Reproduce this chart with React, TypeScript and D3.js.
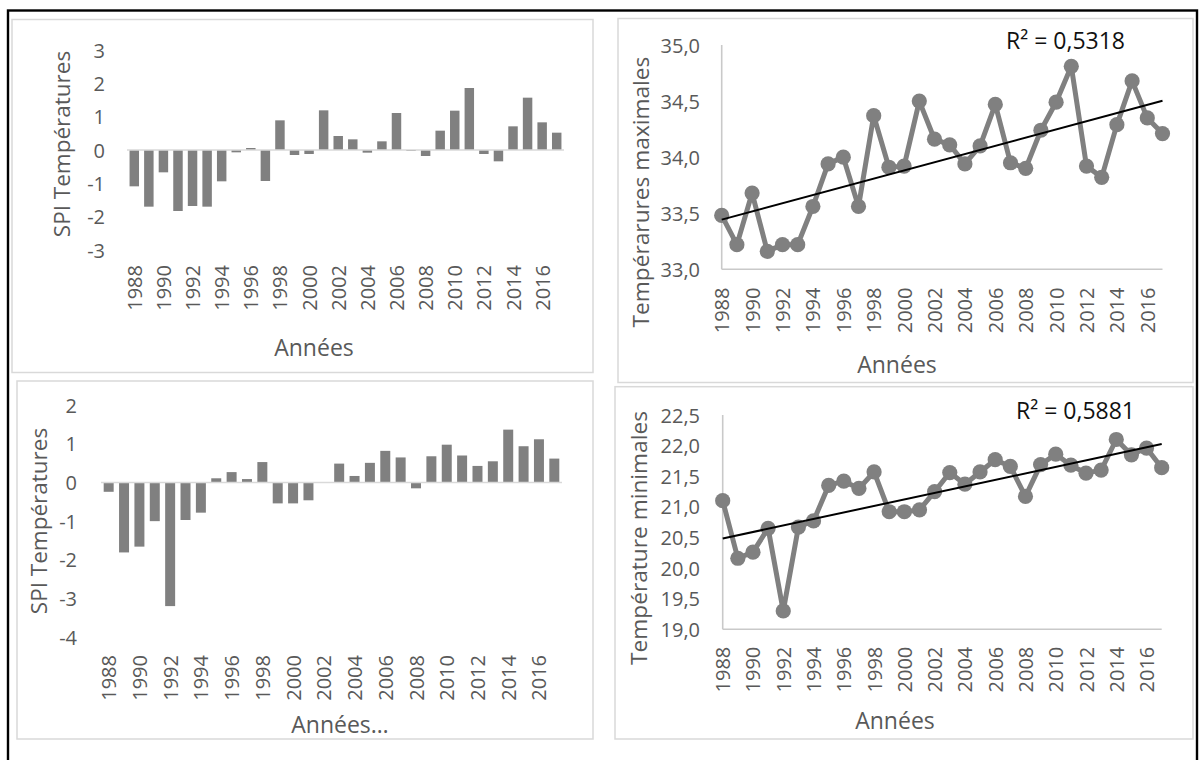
import React from "react";
import * as d3 from "d3";

const years = [1988, 1989, 1990, 1991, 1992, 1993, 1994, 1995, 1996, 1997, 1998, 1999, 2000, 2001, 2002, 2003, 2004, 2005, 2006, 2007, 2008, 2009, 2010, 2011, 2012, 2013, 2014, 2015, 2016, 2017];
const yearTickLabels = [1988, 1990, 1992, 1994, 1996, 1998, 2000, 2002, 2004, 2006, 2008, 2010, 2012, 2014, 2016];

const spiTmax = [-1.09, -1.7, -0.67, -1.83, -1.68, -1.7, -0.94, -0.07, 0.06, -0.93, 0.89, -0.15, -0.12, 1.19, 0.42, 0.32, -0.08, 0.26, 1.11, -0.03, -0.18, 0.58, 1.18, 1.86, -0.12, -0.34, 0.71, 1.57, 0.83, 0.52];
const spiTmin = [-0.24, -1.81, -1.66, -1.0, -3.2, -0.97, -0.78, 0.11, 0.27, 0.09, 0.53, -0.54, -0.54, -0.46, 0.0, 0.49, 0.17, 0.51, 0.82, 0.65, -0.15, 0.68, 0.98, 0.7, 0.43, 0.55, 1.37, 0.94, 1.12, 0.62];
const tmax = [33.48, 33.22, 33.68, 33.16, 33.22, 33.22, 33.56, 33.94, 34.0, 33.56, 34.37, 33.91, 33.92, 34.5, 34.16, 34.11, 33.94, 34.1, 34.47, 33.95, 33.9, 34.24, 34.49, 34.81, 33.92, 33.82, 34.29, 34.68, 34.35, 34.21];
const tmin = [21.1, 20.16, 20.26, 20.65, 19.3, 20.67, 20.77, 21.35, 21.42, 21.3, 21.57, 20.92, 20.92, 20.95, 21.25, 21.56, 21.37, 21.57, 21.77, 21.66, 21.17, 21.69, 21.86, 21.68, 21.55, 21.6, 22.1, 21.85, 21.96, 21.64];

const spiTmaxTicks = [-3, -2, -1, 0, 1, 2, 3];
const spiTminTicks = [-4, -3, -2, -1, 0, 1, 2];
const tmaxTicks = [33.0, 33.5, 34.0, 34.5, 35.0];
const tminTicks = [19.0, 19.5, 20.0, 20.5, 21.0, 21.5, 22.0, 22.5];

const r2Tmax = "R² = 0,5318";
const r2Tmin = "R² = 0,5881";
const ytitleSpi = "SPI Températures";
const ytitleTmax = "Tempérarures maximales";
const ytitleTmin = "Température minimales";
const xtitle = "Années";
const xtitleEllipsis = "Années…";

const FONT = "'Open Sans', 'Noto Sans', sans-serif";
const TXT = "#595959";
const BAR = "#808080";
const AXIS = "#d9d9d9";

type BarProps = {
  frame: [number, number, number, number];
  xRange: [number, number];
  yDomain: [number, number];
  yRange: [number, number];
  values: number[];
  ticks: number[];
  tickRight: number;
  yearTop: number;
  ytitle: string;
  ytitlePos: [number, number];
  xtitle: string;
  xtitlePos: [number, number];
};

function BarPanel(p: BarProps) {
  const x = d3.scaleBand<number>().domain(years).range(p.xRange).paddingInner(0.35).paddingOuter(0.175);
  const y = d3.scaleLinear().domain(p.yDomain).range(p.yRange);
  const [fx, fy, fw, fh] = p.frame;
  return (
    <g>
      <rect x={fx} y={fy} width={fw} height={fh} fill="#fff" stroke={AXIS} strokeWidth={1.5} />
      {p.values.map((v, i) => (
        <rect key={i} x={x(years[i])} width={x.bandwidth()} y={y(Math.max(0, v))} height={Math.abs(y(v) - y(0))} fill={BAR} />
      ))}
      <line x1={p.xRange[0]} x2={p.xRange[1]} y1={y(0)} y2={y(0)} stroke={AXIS} strokeWidth={1.5} />
      {p.ticks.map((t) => (
        <text key={t} x={p.tickRight} y={y(t)} textAnchor="end" dominantBaseline="central" fontSize={20} fill={TXT} fontFamily={FONT}>
          {d3.format("d")(t).replace("−", "-")}
        </text>
      ))}
      {yearTickLabels.map((yr) => (
        <text key={yr} transform={`translate(${(x(yr) as number) + x.bandwidth() / 2},${p.yearTop}) rotate(-90)`} textAnchor="end" dominantBaseline="central" fontSize={20} fill={TXT} fontFamily={FONT}>
          {yr}
        </text>
      ))}
      <text transform={`translate(${p.ytitlePos[0]},${p.ytitlePos[1]}) rotate(-90)`} textAnchor="middle" dominantBaseline="central" fontSize={22.5} fill={TXT} fontFamily={FONT}>
        {p.ytitle}
      </text>
      <text x={p.xtitlePos[0]} y={p.xtitlePos[1]} textAnchor="middle" dominantBaseline="central" fontSize={23} fill={TXT} fontFamily={FONT}>
        {p.xtitle}
      </text>
    </g>
  );
}

type LineProps = {
  frame: [number, number, number, number];
  xRange: [number, number];
  yDomain: [number, number];
  yRange: [number, number];
  values: number[];
  ticks: number[];
  tickRight: number;
  yearTop: number;
  ytitle: string;
  ytitlePos: [number, number];
  xtitle: string;
  xtitlePos: [number, number];
  r2: string;
  r2Pos: [number, number];
};

function LinePanel(p: LineProps) {
  const x = d3.scalePoint<number>().domain(years).range(p.xRange);
  const y = d3.scaleLinear().domain(p.yDomain).range(p.yRange);
  const [fx, fy, fw, fh] = p.frame;
  const pts: [number, number][] = p.values.map((v, i) => [years[i], v]);
  const line = d3.line<[number, number]>().x((d) => x(d[0]) as number).y((d) => y(d[1]));
  const mx = d3.mean(years) as number;
  const my = d3.mean(p.values) as number;
  let num = 0, den = 0;
  years.forEach((yr, i) => { num += (yr - mx) * (p.values[i] - my); den += (yr - mx) * (yr - mx); });
  const slope = num / den;
  const icpt = my - slope * mx;
  const y0 = years[0], y1 = years[years.length - 1];
  const fmt = (t: number) => d3.format(".1f")(t).replace(".", ",");
  return (
    <g>
      <rect x={fx} y={fy} width={fw} height={fh} fill="#fff" stroke={AXIS} strokeWidth={1.5} />
      <line x1={p.xRange[0]} x2={p.xRange[0]} y1={p.yRange[1]} y2={p.yRange[0]} stroke="#c9c9c9" strokeWidth={1.6} />
      <line x1={p.xRange[0]} x2={p.xRange[1]} y1={p.yRange[0]} y2={p.yRange[0]} stroke="#c9c9c9" strokeWidth={1.6} />
      <path d={line(pts) as string} fill="none" stroke={BAR} strokeWidth={5} strokeLinejoin="round" />
      {pts.map((d, i) => (
        <circle key={i} cx={x(d[0])} cy={y(d[1])} r={7.6} fill={BAR} />
      ))}
      <line x1={x(y0)} x2={x(y1)} y1={y(icpt + slope * y0)} y2={y(icpt + slope * y1)} stroke="#000" strokeWidth={2} />
      {p.ticks.map((t) => (
        <text key={t} x={p.tickRight} y={y(t)} textAnchor="end" dominantBaseline="central" fontSize={20} fill={TXT} fontFamily={FONT}>
          {fmt(t)}
        </text>
      ))}
      {yearTickLabels.map((yr) => (
        <text key={yr} transform={`translate(${x(yr)},${p.yearTop}) rotate(-90)`} textAnchor="end" dominantBaseline="central" fontSize={20} fill={TXT} fontFamily={FONT}>
          {yr}
        </text>
      ))}
      <text transform={`translate(${p.ytitlePos[0]},${p.ytitlePos[1]}) rotate(-90)`} textAnchor="middle" dominantBaseline="central" fontSize={22.7} fill={TXT} fontFamily={FONT}>
        {p.ytitle}
      </text>
      <text x={p.xtitlePos[0]} y={p.xtitlePos[1]} textAnchor="middle" dominantBaseline="central" fontSize={23} fill={TXT} fontFamily={FONT}>
        {p.xtitle}
      </text>
      <text x={p.r2Pos[0]} y={p.r2Pos[1]} textAnchor="start" dominantBaseline="central" fontSize={23} fill="#111" fontFamily={FONT}>
        {p.r2}
      </text>
    </g>
  );
}

export default function App() {
  return (
    <svg width={1200} height={760} style={{ position: "absolute", left: 0, top: 0, background: "#fff" }}>
      <rect x={0} y={0} width={1200} height={760} fill="#fff" />
      <rect x={8} y={10.5} width={1189} height={800} fill="none" stroke="#000" strokeWidth={2.4} />
      <BarPanel
        frame={[12, 19.5, 581, 353]}
        xRange={[127, 564]}
        yDomain={[-3, 3]}
        yRange={[250, 50]}
        values={spiTmax}
        ticks={spiTmaxTicks}
        tickRight={105}
        yearTop={265}
        ytitle={ytitleSpi}
        ytitlePos={[61.5, 144]}
        xtitle={xtitle}
        xtitlePos={[314, 347]}
      />
      <LinePanel
        frame={[618, 18.5, 575, 364]}
        xRange={[721.7, 1162.5]}
        yDomain={[33, 35]}
        yRange={[269.3, 45]}
        values={tmax}
        ticks={tmaxTicks}
        tickRight={700}
        yearTop={287.5}
        ytitle={ytitleTmax}
        ytitlePos={[640.6, 192]}
        xtitle={xtitle}
        xtitlePos={[897, 364]}
        r2={r2Tmax}
        r2Pos={[1006, 40]}
      />
      <BarPanel
        frame={[17, 381, 576, 358]}
        xRange={[101, 562]}
        yDomain={[-4, 2]}
        yRange={[637, 405.3]}
        values={spiTmin}
        ticks={spiTminTicks}
        tickRight={77}
        yearTop={655}
        ytitle={ytitleSpi}
        ytitlePos={[38.3, 521]}
        xtitle={xtitleEllipsis}
        xtitlePos={[340, 723.5]}
      />
      <LinePanel
        frame={[615, 386.7, 578, 352.3]}
        xRange={[722.7, 1161.7]}
        yDomain={[19, 22.5]}
        yRange={[629.3, 415]}
        values={tmin}
        ticks={tminTicks}
        tickRight={700}
        yearTop={646.7}
        ytitle={ytitleTmin}
        ytitlePos={[638.6, 538]}
        xtitle={xtitle}
        xtitlePos={[895, 720]}
        r2={r2Tmin}
        r2Pos={[1016, 410]}
      />
    </svg>
  );
}
